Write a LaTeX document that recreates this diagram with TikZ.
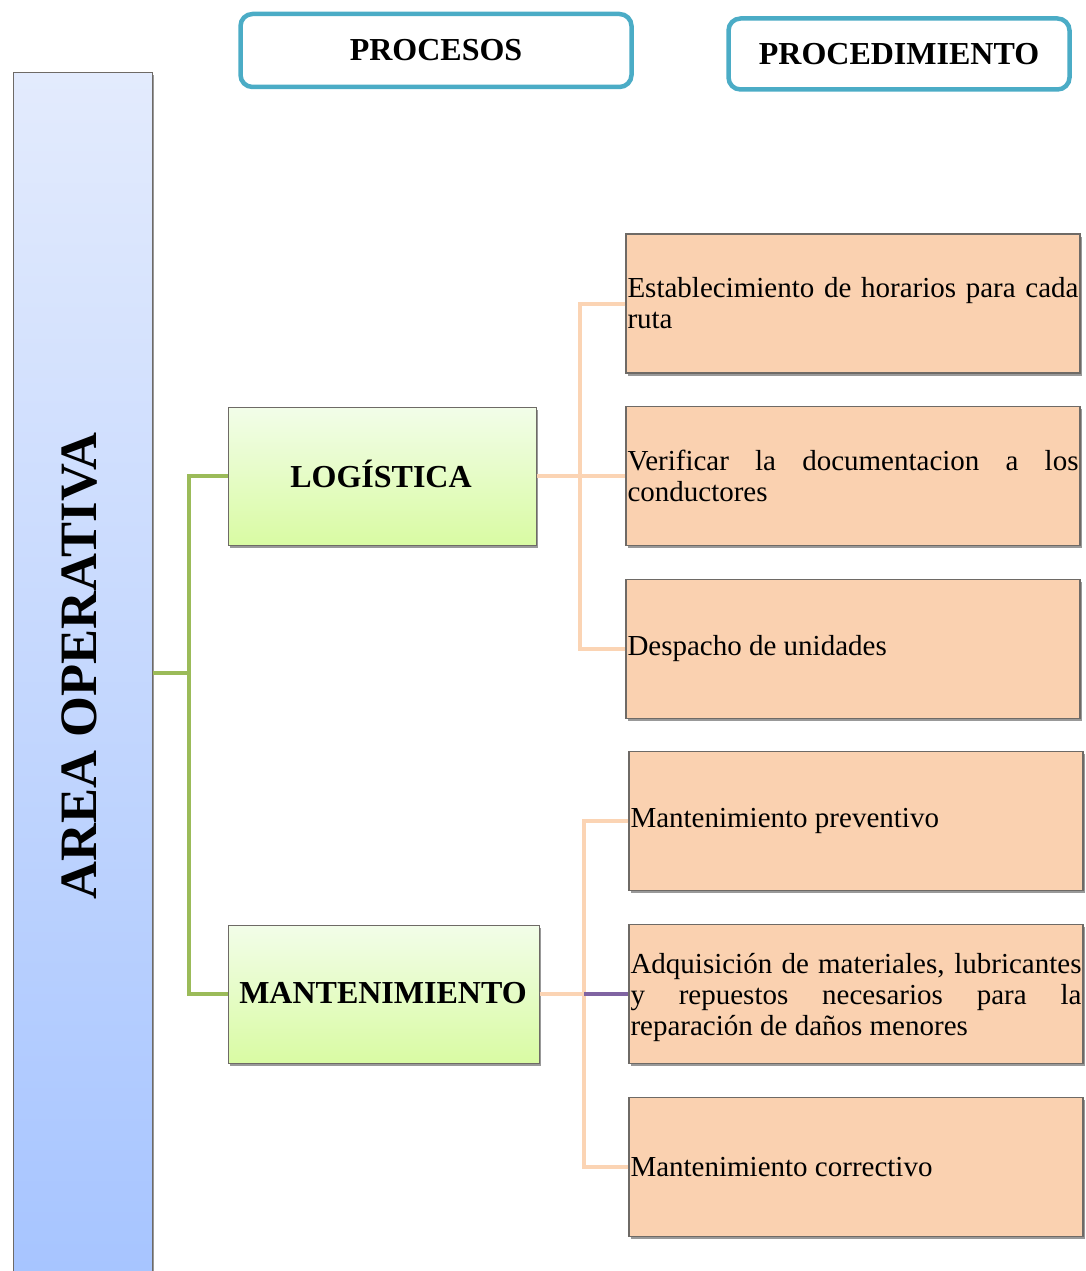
\documentclass[tikz,border=0pt]{standalone}
\usepackage{fontspec}
\setmainfont{Liberation Serif}
\usetikzlibrary{shadows}

\definecolor{hdrblue}{HTML}{4BACC6}
\definecolor{barTop}{HTML}{E3EBFD}
\definecolor{barBot}{HTML}{A6C4FF}
\definecolor{greenTop}{HTML}{F2FDE9}
\definecolor{greenBot}{HTML}{D9FBA3}
\definecolor{peach}{HTML}{FAD1B0}
\definecolor{greenLine}{HTML}{9BBB59}
\definecolor{peachLine}{HTML}{FBD4B4}
\definecolor{violetLine}{HTML}{8064A2}
\definecolor{boxEdge}{HTML}{6E6A66}

\begin{document}
\begin{tikzpicture}[x=1pt,y=-1pt,
  softshadow/.style={drop shadow={shadow xshift=1.5pt,shadow yshift=-2.5pt,fill=black,opacity=0.4}},
  header/.style={draw=hdrblue,line width=4.5pt,rounded corners=12pt,fill=white,
    inner sep=0pt,font=\fontsize{32}{36}\selectfont\bfseries},
  bar/.style={draw=boxEdge,line width=1pt,top color=barTop,bottom color=barBot,
    minimum width=139pt,minimum height=1217pt,inner sep=0pt,softshadow},
  procbox/.style={draw=boxEdge,line width=1pt,top color=greenTop,bottom color=greenBot,
    minimum height=138pt,inner sep=0pt,softshadow},
  proctext/.style={font=\fontsize{32}{36}\selectfont\bfseries,inner sep=0pt},
  steptext/.style={text width=451pt,align=justify,inner xsep=1pt,inner ysep=0pt,
    font=\fontsize{29}{31}\selectfont},
  stepbox/.style={steptext,draw=boxEdge,line width=1.1pt,fill=peach,softshadow,
    minimum width=454pt,minimum height=139pt},
  greenlink/.style={draw=greenLine,line width=4pt},
  peachlink/.style={draw=peachLine,line width=4pt},
  violetlink/.style={draw=violetLine,line width=4pt}]

\useasboundingbox (0,0) rectangle (1086,1271);

% column headers
\node[header,minimum width=391pt,minimum height=73pt] (hproc) at (436,50.5) {PROCESOS};
\node[header,minimum width=341pt,minimum height=71pt] (hprocd) at (899,54) {PROCEDIMIENTO};

% area bar
\node[bar] (area) at (82.5,681.5) {};
\node[rotate=90,font=\fontsize{52.5}{58}\selectfont\bfseries] (areatext) at (80,666) {AREA OPERATIVA};

% processes
\node[procbox,minimum width=308pt] (log) at (382,476) {};
\node[proctext] (logtext) at (381,474) {LOGÍSTICA};
\node[procbox,minimum width=311pt] (mant) at (383.5,994) {};
\node[proctext] (manttext) at (383,993) {MANTENIMIENTO};

% procedures
\node[stepbox] (s1) at (853,303.5) {Establecimiento de horarios para cada ruta};
\node[stepbox] (s2) at (853,476) {Verificar la documentacion a los\linebreak conductores};
\node[stepbox] (s3) at (853,649) {Despacho de unidades};
\node[stepbox] (s4) at (856,821) {Mantenimiento preventivo};
\node[stepbox] (s5) at (856,994) {};
\node[steptext] (s5text) at (856,997) {Adquisición de materiales, lubricantes\linebreak y repuestos necesarios para la\linebreak reparación de daños menores};
\node[stepbox] (s6) at (856,1167) {Mantenimiento correctivo};

% junction points
\coordinate (areaout) at (area.east |- 0,673);
\coordinate (gj) at (189,673);
\coordinate (lj) at (580,476);
\coordinate (mj) at (584,994);

% area to processes
\draw[greenlink] (areaout) -- (gj);
\draw[greenlink] (log.west) -| (gj);
\draw[greenlink] (mant.west) -| (gj);

% logistics to its procedures
\draw[peachlink] (log.east) -- (s2.west);
\draw[peachlink] (s1.west) -| (lj);
\draw[peachlink] (s3.west) -| (lj);

% maintenance to its procedures
\draw[peachlink] (mant.east) -- (mj);
\draw[peachlink] (s4.west) -| (mj);
\draw[peachlink] (s6.west) -| (mj);
\draw[violetlink] (mj) -- (s5.west);
\end{tikzpicture}
\end{document}
